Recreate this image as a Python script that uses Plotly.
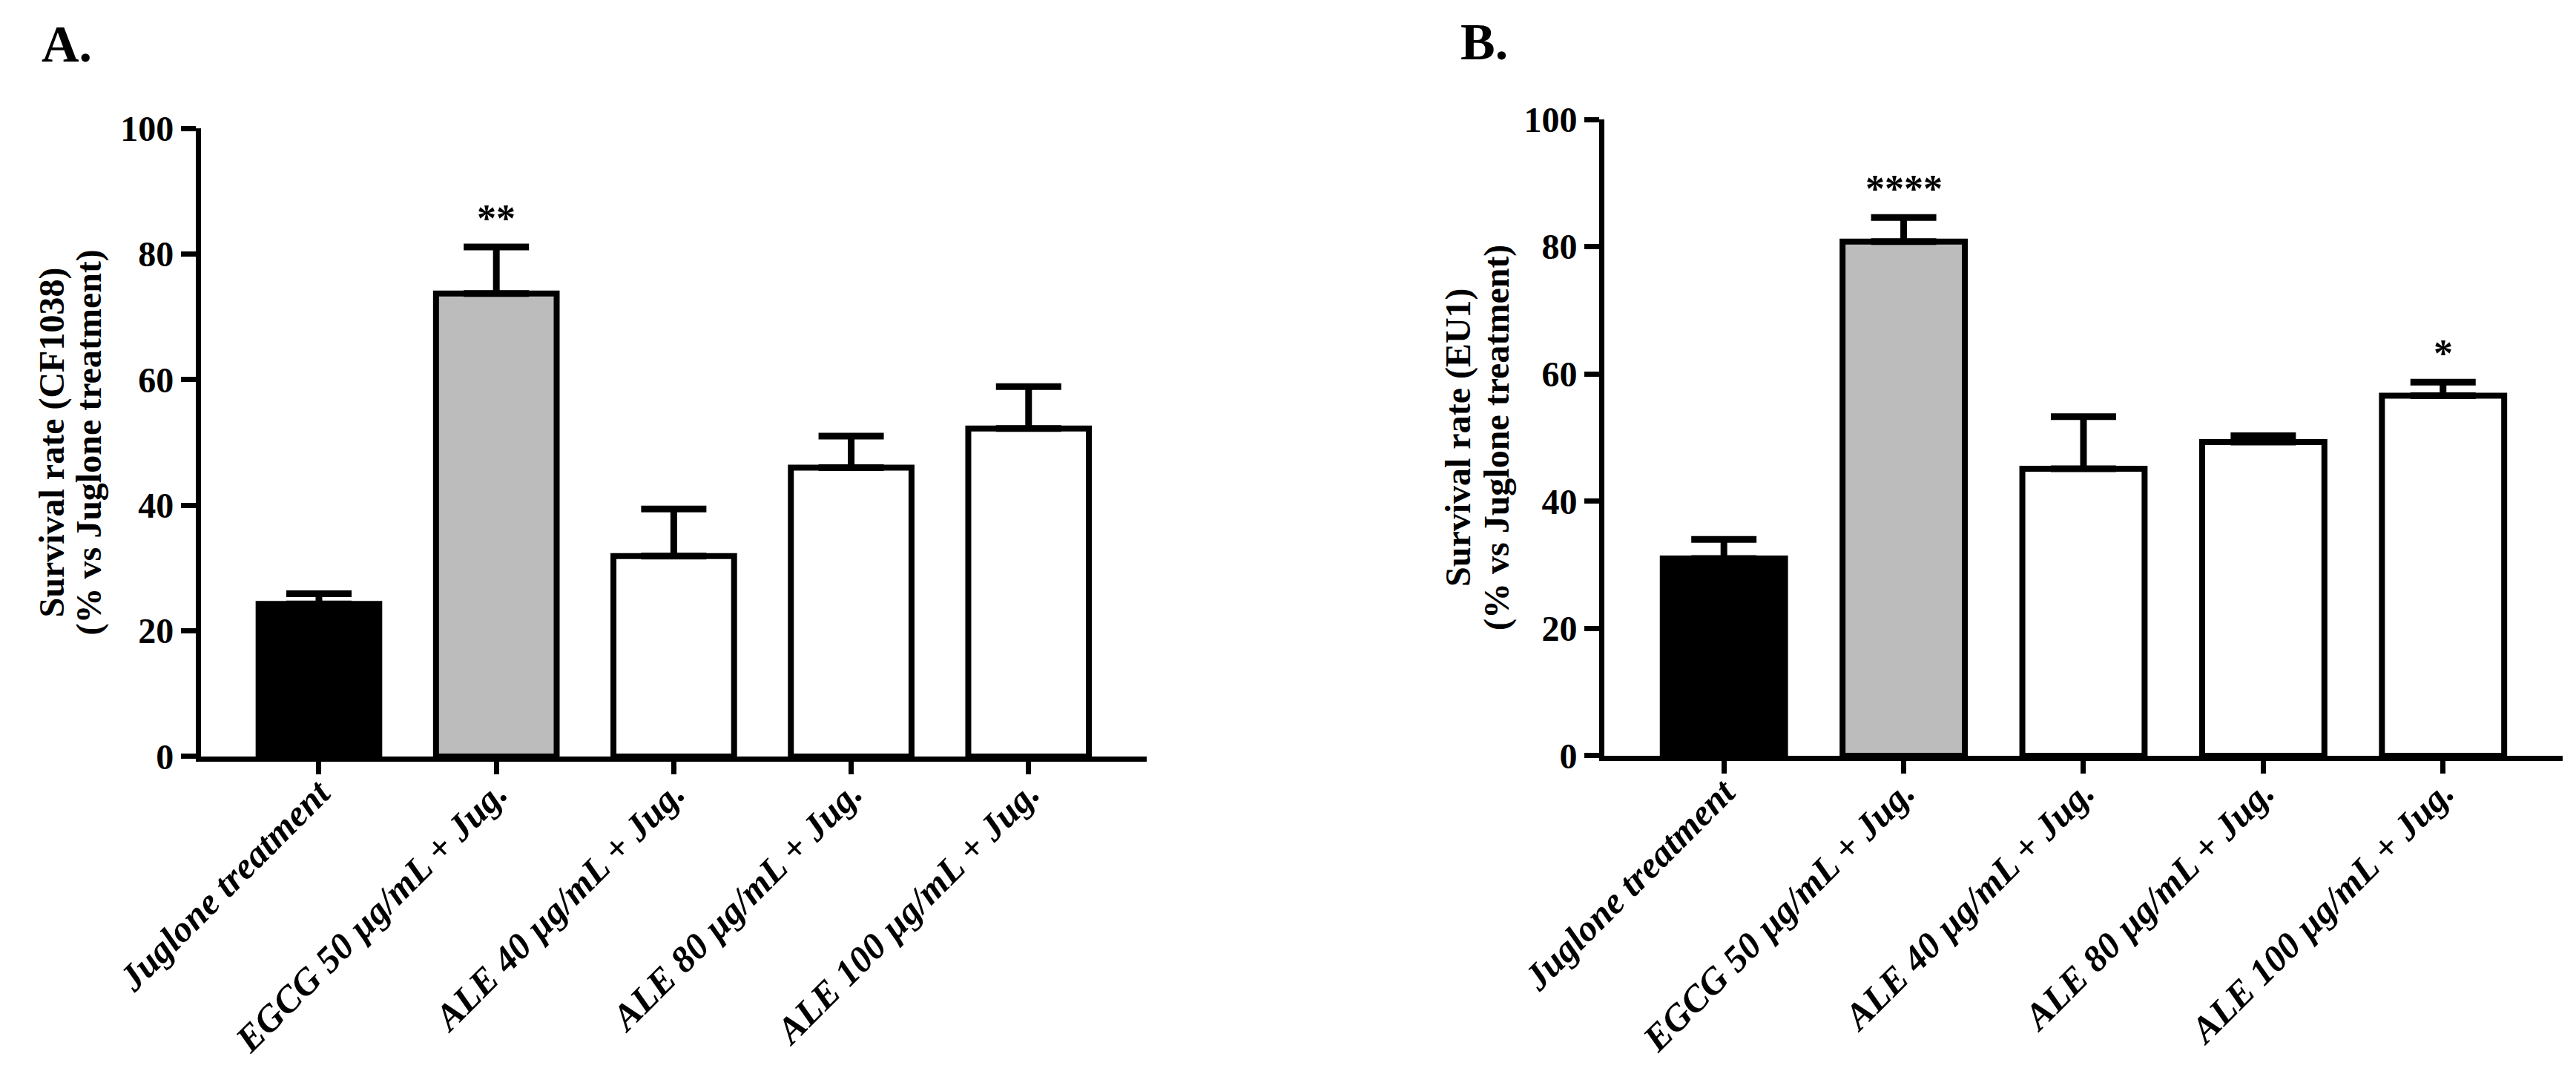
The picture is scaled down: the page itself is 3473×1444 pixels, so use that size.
import plotly.graph_objects as go
from plotly.subplots import make_subplots

categories = ["Juglone treatment", "EGCG 50 µg/mL + Jug.", "ALE 40 µg/mL + Jug.",
              "ALE 80 µg/mL + Jug.", "ALE 100 µg/mL + Jug."]
bar_colors = ["#000000", "#bcbcbc", "#ffffff", "#ffffff", "#ffffff"]

# panel A - CF1038
mean_a = [24.3, 73.7, 31.9, 46.0, 52.2]
sem_a = [1.6, 7.4, 7.5, 5.0, 6.7]
sig_a = ["", "**", "", "", ""]

# panel B - EU1
mean_b = [31.0, 80.8, 45.1, 49.3, 56.6]
sem_b = [3.0, 3.8, 8.2, 1.0, 2.1]
sig_b = ["", "****", "", "", "*"]

y_ticks = [0, 20, 40, 60, 80, 100]
title_lines_a = ["Survival rate (CF1038)", "(% vs Juglone treatment)"]
title_lines_b = ["Survival rate (EU1)", "(% vs Juglone treatment)"]

FONT = "Liberation Serif"

fig = make_subplots(rows=1, cols=2)

for col, (means, sems) in enumerate([(mean_a, sem_a), (mean_b, sem_b)], start=1):
    fig.add_trace(go.Bar(
        x=categories, y=means, width=0.68,
        marker=dict(color=bar_colors, line=dict(color="black", width=8)),
        error_y=dict(type="data", symmetric=False, array=sems,
                     arrayminus=[0] * len(sems), color="black",
                     thickness=9, width=44),
        showlegend=False,
    ), row=1, col=col)

# significance stars above the error caps
for xr, yr, means, sems, sigs in [("x", "y", mean_a, sem_a, sig_a),
                                  ("x2", "y2", mean_b, sem_b, sig_b)]:
    for cat, m, s, txt in zip(categories, means, sems, sigs):
        if txt:
            fig.add_annotation(x=cat, y=m + s, xref=xr, yref=yr, text=txt,
                               showarrow=False, yanchor="bottom", yshift=8,
                               font=dict(family=FONT, size=52, color="black",
                                         weight="bold"))

xaxis_style = dict(
    range=[-0.665, 4.665], showline=True, linewidth=7, linecolor="black",
    ticks="outside", ticklen=17, tickwidth=7, tickcolor="black",
    tickangle=-45, showgrid=False, zeroline=False, automargin=False,
    ticklabelstandoff=-24,
    tickfont=dict(family=FONT, size=50, color="black", weight="bold", style="italic"),
)
yaxis_style = dict(
    range=[0, 100], tickvals=y_ticks, showline=True, linewidth=7, linecolor="black",
    ticks="outside", ticklen=20, tickwidth=7, tickcolor="black",
    showgrid=False, zeroline=False, automargin=False,
    tickfont=dict(family=FONT, size=48, color="black", weight="bold"),
)

fig.update_layout(
    xaxis=dict(domain=[0.0757, 0.4428], **xaxis_style),
    xaxis2=dict(domain=[0.6205, 0.9925], **xaxis_style),
    yaxis=dict(domain=[0.2992, 0.8857], **yaxis_style),
    yaxis2=dict(domain=[0.2999, 0.8940], **yaxis_style),
    width=3473, height=1444,
    margin=dict(l=0, r=0, t=0, b=0, autoexpand=False),
    paper_bgcolor="white", plot_bgcolor="white",
    bargap=0.3,
)

# y-axis titles, two tightly spaced lines each
for xs, yp, lines in [((62, 112), (0.2992 + 0.8857) / 2, title_lines_a),
                      ((1958, 2010), (0.2999 + 0.8940) / 2, title_lines_b)]:
    for xpx, txt in zip(xs, lines):
        fig.add_annotation(x=xpx / 3473, y=yp, xref="paper", yref="paper", text=txt,
                           textangle=-90, showarrow=False, xanchor="center",
                           yanchor="middle",
                           font=dict(family=FONT, size=48, color="black", weight="bold"))

# panel letters
for xp, yp, txt in [(46 / 3473, 1 - 52 / 1444, "A."), (1959 / 3473, 1 - 48 / 1444, "B.")]:
    fig.add_annotation(x=xp, y=yp, xref="paper", yref="paper", text=txt,
                       showarrow=False, xanchor="left", yanchor="middle",
                       font=dict(family=FONT, size=70, color="black", weight="bold"))

fig.write_html("out.html")
